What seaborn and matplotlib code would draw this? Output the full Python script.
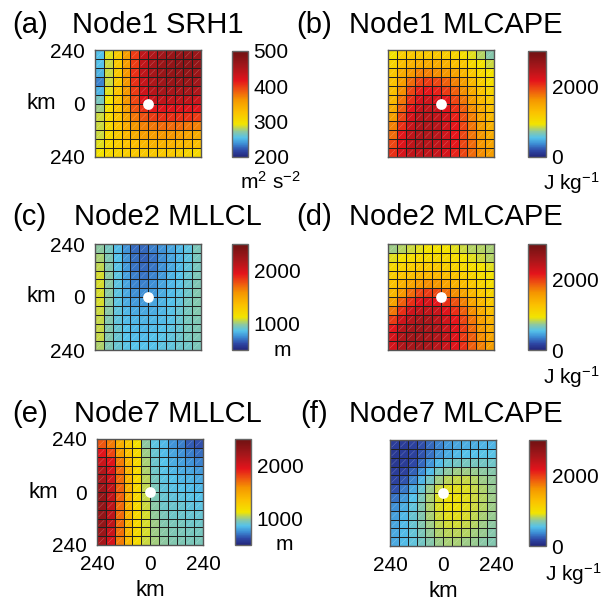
import matplotlib
matplotlib.use("Agg")
import matplotlib.pyplot as plt
import seaborn as sns
import numpy as np
from matplotlib.colors import LinearSegmentedColormap

# 12x12 composites, top row = north edge (240 km), left column = west edge
node1_srh1 = [
    [255, 290, 320, 355, 400, 440, 450, 460, 465, 470, 470, 465],
    [255, 285, 320, 355, 400, 440, 455, 465, 470, 475, 475, 470],
    [250, 285, 320, 360, 405, 440, 455, 465, 470, 470, 470, 465],
    [235, 285, 320, 360, 405, 435, 450, 460, 465, 465, 465, 460],
    [250, 290, 325, 360, 400, 430, 445, 455, 455, 455, 455, 450],
    [265, 295, 325, 360, 395, 420, 435, 440, 440, 440, 440, 435],
    [275, 300, 325, 355, 390, 405, 415, 420, 420, 420, 420, 420],
    [285, 305, 325, 350, 375, 390, 400, 405, 405, 405, 405, 400],
    [285, 305, 325, 345, 360, 370, 375, 380, 380, 380, 375, 370],
    [285, 305, 320, 335, 345, 355, 355, 360, 360, 355, 350, 345],
    [290, 305, 315, 325, 330, 335, 340, 340, 340, 335, 335, 330],
    [295, 305, 310, 315, 320, 320, 320, 320, 320, 315, 310, 305],
]

node1_mlcape = [
    [950, 1150, 1200, 1200, 1200, 1200, 1150, 1100, 1000, 900, 800, 700],
    [1100, 1300, 1400, 1450, 1450, 1450, 1400, 1300, 1200, 1050, 950, 850],
    [1200, 1450, 1600, 1700, 1700, 1650, 1600, 1500, 1350, 1200, 1050, 950],
    [1250, 1550, 1800, 1950, 2000, 1950, 1850, 1700, 1550, 1350, 1150, 1000],
    [1300, 1650, 1950, 2100, 2150, 2100, 2000, 1850, 1650, 1450, 1250, 1100],
    [1350, 1750, 2050, 2250, 2300, 2250, 2150, 1950, 1750, 1550, 1350, 1200],
    [1450, 1850, 2150, 2350, 2400, 2350, 2200, 2050, 1850, 1650, 1450, 1300],
    [1550, 1950, 2250, 2450, 2450, 2400, 2300, 2100, 1900, 1700, 1500, 1350],
    [1700, 2050, 2350, 2500, 2500, 2450, 2300, 2150, 1950, 1750, 1550, 1400],
    [1800, 2150, 2400, 2500, 2500, 2450, 2300, 2150, 1950, 1750, 1600, 1450],
    [1950, 2200, 2400, 2500, 2450, 2400, 2300, 2150, 1950, 1800, 1600, 1500],
    [2050, 2250, 2400, 2400, 2400, 2350, 2250, 2100, 1950, 1800, 1650, 1550],
]

node2_mllcl = [
    [980, 930, 850, 760, 680, 680, 720, 760, 800, 840, 880, 940],
    [1020, 950, 860, 770, 690, 670, 700, 750, 800, 840, 880, 930],
    [1050, 960, 870, 780, 700, 680, 710, 760, 810, 850, 890, 930],
    [1080, 970, 880, 790, 720, 700, 730, 780, 830, 860, 900, 940],
    [1080, 970, 880, 800, 730, 720, 750, 800, 840, 870, 910, 950],
    [1080, 970, 880, 810, 750, 750, 780, 820, 850, 880, 920, 960],
    [1080, 970, 880, 820, 780, 780, 800, 830, 860, 890, 930, 960],
    [1070, 970, 890, 840, 810, 810, 820, 840, 870, 900, 930, 960],
    [1060, 960, 890, 850, 830, 830, 840, 850, 870, 900, 930, 950],
    [1060, 960, 900, 860, 840, 840, 850, 860, 880, 900, 930, 950],
    [1060, 960, 900, 860, 850, 850, 860, 870, 890, 910, 930, 950],
    [1030, 950, 900, 870, 860, 860, 860, 880, 890, 910, 920, 940],
]

node2_mlcape = [
    [750, 800, 850, 900, 950, 950, 950, 900, 850, 800, 800, 780],
    [900, 950, 1000, 1050, 1050, 1050, 1050, 1000, 950, 900, 850, 800],
    [1050, 1100, 1150, 1200, 1200, 1200, 1150, 1100, 1050, 1000, 950, 900],
    [1150, 1250, 1300, 1350, 1350, 1350, 1300, 1250, 1150, 1100, 1000, 950],
    [1250, 1400, 1500, 1600, 1650, 1600, 1500, 1400, 1300, 1200, 1100, 1000],
    [1350, 1600, 1800, 1950, 2000, 1950, 1800, 1650, 1500, 1350, 1200, 1100],
    [1500, 1850, 2050, 2200, 2250, 2150, 2050, 1900, 1700, 1500, 1350, 1200],
    [1750, 2050, 2300, 2400, 2400, 2350, 2200, 2050, 1850, 1650, 1450, 1300],
    [2000, 2300, 2450, 2550, 2550, 2450, 2300, 2150, 1950, 1750, 1550, 1400],
    [2150, 2450, 2550, 2600, 2550, 2500, 2350, 2200, 2000, 1800, 1600, 1450],
    [2250, 2500, 2600, 2600, 2550, 2500, 2400, 2200, 2000, 1850, 1650, 1500],
    [2250, 2500, 2550, 2600, 2550, 2450, 2350, 2200, 2050, 1850, 1700, 1550],
]

node7_mllcl = [
    [1750, 1650, 1450, 1300, 1150, 980, 880, 840, 760, 720, 660, 640],
    [1950, 1800, 1550, 1350, 1180, 1000, 900, 850, 800, 760, 720, 690],
    [2050, 1950, 1650, 1400, 1200, 1020, 910, 860, 820, 790, 760, 730],
    [2150, 2000, 1700, 1420, 1200, 1030, 920, 870, 840, 820, 800, 780],
    [2200, 2050, 1700, 1420, 1200, 1040, 930, 880, 860, 840, 830, 810],
    [2250, 2100, 1720, 1430, 1200, 1050, 940, 890, 870, 860, 850, 840],
    [2300, 2100, 1720, 1430, 1200, 1060, 950, 900, 890, 880, 870, 860],
    [2300, 2100, 1700, 1420, 1200, 1070, 970, 920, 910, 900, 890, 880],
    [2300, 2100, 1700, 1420, 1200, 1080, 990, 940, 920, 910, 900, 900],
    [2300, 2100, 1700, 1400, 1200, 1080, 1000, 960, 940, 930, 920, 920],
    [2250, 2050, 1680, 1400, 1200, 1080, 1000, 970, 950, 940, 930, 930],
    [2200, 2000, 1650, 1380, 1180, 1070, 1010, 980, 960, 950, 940, 940],
]

node7_mlcape = [
    [120, 120, 150, 200, 280, 350, 420, 450, 480, 480, 500, 500],
    [100, 120, 150, 220, 300, 400, 480, 520, 540, 550, 560, 560],
    [100, 120, 180, 280, 400, 520, 600, 640, 650, 650, 640, 630],
    [120, 150, 250, 380, 520, 650, 720, 750, 760, 740, 720, 700],
    [150, 220, 350, 500, 640, 760, 820, 840, 840, 800, 760, 730],
    [200, 320, 460, 600, 740, 850, 900, 900, 880, 840, 790, 740],
    [300, 420, 540, 660, 780, 880, 920, 920, 900, 850, 800, 750],
    [380, 480, 580, 680, 790, 880, 920, 920, 900, 850, 800, 750],
    [430, 510, 600, 690, 780, 860, 900, 900, 870, 830, 780, 740],
    [450, 520, 600, 680, 760, 830, 860, 860, 840, 800, 760, 720],
    [460, 520, 590, 660, 730, 790, 820, 820, 800, 770, 740, 700],
    [460, 520, 580, 640, 700, 750, 780, 780, 760, 740, 710, 680],
]

tick_labels = ["240", "0", "240"]

sns.set_style("white")
plt.rcParams["font.family"] = ["Liberation Sans", "DejaVu Sans"]
plt.rcParams["mathtext.fontset"] = "custom"
plt.rcParams["mathtext.rm"] = "Liberation Sans"
plt.rcParams["mathtext.it"] = "Liberation Sans"
for key in ["text.color", "axes.labelcolor", "xtick.color", "ytick.color"]:
    plt.rcParams[key] = "black"

cmap = LinearSegmentedColormap.from_list("ncl_like", [
    (0.00, "#23267a"), (0.06, "#2e48a6"), (0.12, "#3c8ad3"),
    (0.18, "#55c2ea"), (0.24, "#8ec8a0"), (0.31, "#f2e400"),
    (0.42, "#fbc200"), (0.54, "#f59600"), (0.63, "#ee5510"),
    (0.72, "#e4141b"), (0.86, "#a3161a"), (1.00, "#6e1212"),
])

W, H = 611, 603
fig = plt.figure(figsize=(W / 100, H / 100), dpi=100)


def box(x0, y0, x1, y1):
    return [x0 / W, 1 - y1 / H, (x1 - x0) / W, (y1 - y0) / H]


panels = [
    dict(data=node1_srh1, tag="(a)", name="Node1 SRH1", vmin=200, vmax=500,
         ticks=[200, 300, 400, 500], unit="m$^2$ s$^{-2}$",
         heat=(95, 50, 201, 157), cb=(232, 51, 248, 157),
         title=(12, 72, 33), unit_xy=(240, 182), left=True, bottom=False),
    dict(data=node1_mlcape, tag="(b)", name="Node1 MLCAPE", vmin=0, vmax=3000,
         ticks=[0, 2000], unit="J kg$^{-1}$",
         heat=(388, 50, 494, 157), cb=(528, 51, 546, 157),
         title=(296, 349, 33), unit_xy=(543, 183), left=False, bottom=False),
    dict(data=node2_mllcl, tag="(c)", name="Node2 MLLCL", vmin=500, vmax=2500,
         ticks=[1000, 2000], unit="m",
         heat=(95, 244, 201, 350), cb=(232, 244, 248, 350),
         title=(12, 74, 225), unit_xy=(274, 350), left=True, bottom=False),
    dict(data=node2_mlcape, tag="(d)", name="Node2 MLCAPE", vmin=0, vmax=3000,
         ticks=[0, 2000], unit="J kg$^{-1}$",
         heat=(388, 244, 494, 350), cb=(528, 244, 546, 350),
         title=(296, 349, 225), unit_xy=(543, 377), left=False, bottom=False),
    dict(data=node7_mllcl, tag="(e)", name="Node7 MLLCL", vmin=500, vmax=2500,
         ticks=[1000, 2000], unit="m",
         heat=(97, 439, 203, 545), cb=(235, 439, 251, 545),
         title=(12, 74, 422), unit_xy=(276, 544), left=True, bottom=True),
    dict(data=node7_mlcape, tag="(f)", name="Node7 MLCAPE", vmin=0, vmax=3000,
         ticks=[0, 2000], unit="J kg$^{-1}$",
         heat=(390, 440, 496, 546), cb=(529, 440, 546, 546),
         title=(300, 349, 422), unit_xy=(545, 574), left=False, bottom=True),
]

for p in panels:
    ax = fig.add_axes(box(*p["heat"]))
    cax = fig.add_axes(box(*p["cb"]))
    grid = np.array(p["data"], dtype=float)
    n = grid.shape[0]
    sns.heatmap(grid, ax=ax, cbar_ax=cax, cmap=cmap, vmin=p["vmin"], vmax=p["vmax"],
                linewidths=0.7, linecolor="#202020", square=False,
                xticklabels=False, yticklabels=False,
                cbar_kws={"ticks": p["ticks"]})
    cbar = ax.collections[0].colorbar

    # faint significance hatching, one diagonal per cell
    for i in range(n):
        for j in range(n):
            ax.plot([j + 0.2, j + 0.8], [i + 0.8, i + 0.2], color="white",
                    alpha=0.3, lw=0.35, zorder=3)
    ax.scatter([n / 2], [n / 2], s=60, color="white", zorder=5, linewidths=0)
    for s in ax.spines.values():
        s.set_visible(True)
        s.set_color("#555555")
        s.set_linewidth(1)

    ax.tick_params(length=0, labelsize=15, pad=7)
    if p["left"]:
        ax.set_yticks([0, n / 2, n])
        ax.set_yticklabels(tick_labels, fontsize=15)
        ax.set_ylabel("km", rotation=0, fontsize=16, va="center", ha="center")
        ax.yaxis.set_label_coords(-0.51, 0.5)
    if p["bottom"]:
        ax.set_xticks([0, n / 2, n])
        ax.set_xticklabels(tick_labels, fontsize=15)
        ax.set_xlabel("km", fontsize=16)
        ax.xaxis.set_label_coords(0.5, -0.33)

    cax.tick_params(length=0, labelsize=15, pad=4)
    cax.set_yticklabels([str(t) for t in p["ticks"]])
    cbar.outline.set_edgecolor("#666666")
    cbar.outline.set_linewidth(1)

    tx, nx, ty = p["title"]
    fig.text(tx / W, 1 - ty / H, p["tag"], fontsize=21, va="baseline")
    fig.text(nx / W, 1 - ty / H, p["name"], fontsize=21, va="baseline")
    ux, uy = p["unit_xy"]
    fig.text(ux / W, 1 - uy / H, p["unit"], fontsize=15, va="center")

fig.savefig("out.png", dpi=100)
